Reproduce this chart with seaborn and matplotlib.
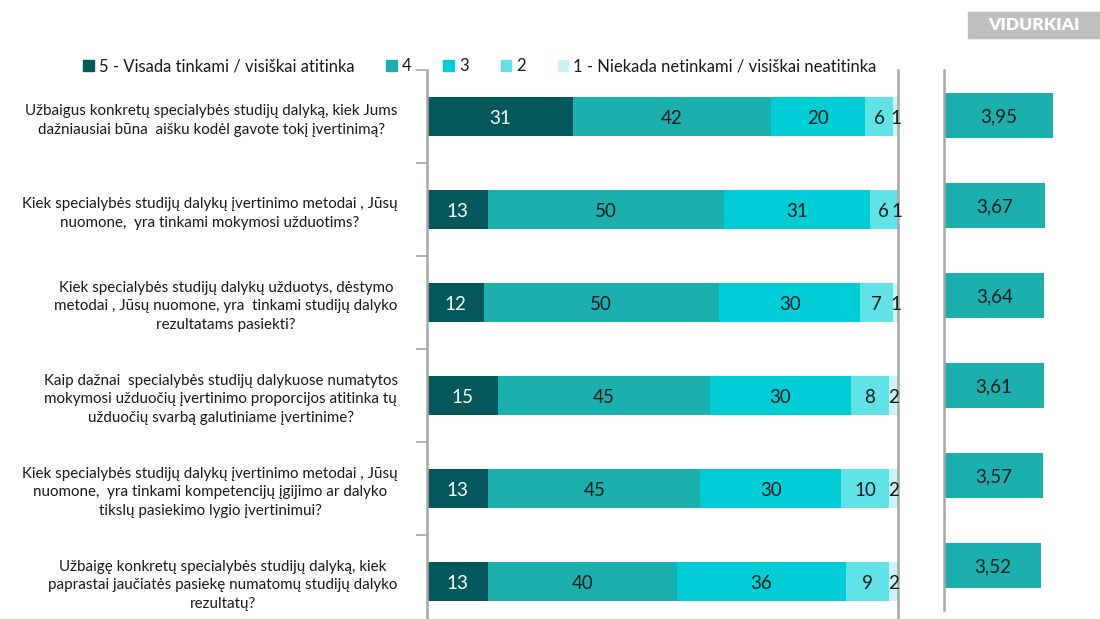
import numpy as np
import pandas as pd
import seaborn as sns
import matplotlib.pyplot as plt

sns.set_theme(style="white")
plt.rcParams['font.family'] = ['Lato', 'DejaVu Sans']

# data
questions = [
    "Užbaigus konkretų specialybės studijų dalyką, kiek Jums\ndažniausiai būna  aišku kodėl gavote tokį įvertinimą?",
    "Kiek specialybės studijų dalykų įvertinimo metodai , Jūsų\nnuomone,  yra tinkami mokymosi užduotims?",
    "Kiek specialybės studijų dalykų užduotys, dėstymo\nmetodai , Jūsų nuomone, yra  tinkami studijų dalyko\nrezultatams pasiekti?",
    "Kaip dažnai  specialybės studijų dalykuose numatytos\nmokymosi užduočių įvertinimo proporcijos atitinka tų\nužduočių svarbą galutiniame įvertinime?",
    "Kiek specialybės studijų dalykų įvertinimo metodai , Jūsų\nnuomone,  yra tinkami kompetencijų įgijimo ar dalyko\ntikslų pasiekimo lygio įvertinimui?",
    "Užbaigę konkretų specialybės studijų dalyką, kiek\npaprastai jaučiatės pasiekę numatomų studijų dalyko\nrezultatų?",
]
series_names = ["5 - Visada tinkami / visiškai atitinka", "4", "3", "2",
                "1 - Niekada netinkami / visiškai neatitinka"]
v5 = [31, 13, 12, 15, 13, 13]
v4 = [42, 50, 50, 45, 45, 40]
v3 = [20, 31, 30, 30, 30, 36]
v2 = [6, 6, 7, 8, 10, 9]
v1 = [1, 1, 1, 2, 2, 2]
averages = [3.95, 3.67, 3.64, 3.61, 3.57, 3.52]

colors = ["#03585C", "#1BB0AE", "#00CED6", "#5FE3E6", "#C9F4F5"]
text_colors = ["white", "#1a1a1a", "#1a1a1a", "#1a1a1a", "#1a1a1a"]

values = np.array([v5, v4, v3, v2, v1], dtype=float)
cum = values.cumsum(axis=0)

fig = plt.figure(figsize=(11, 6.19), dpi=100)
W, H = 1100, 619
ax1 = fig.add_axes([427 / W, (H - 628) / H, 471 / W, 558 / H])
ax2 = fig.add_axes([944 / W, (H - 610) / H, 138 / W, 540 / H])

# stacked bars: draw widest cumulative first, then overlay the shorter ones
for i in range(4, -1, -1):
    df = pd.DataFrame({"q": questions, "x": cum[i]})
    sns.barplot(data=df, x="x", y="q", orient="h", color=colors[i],
                saturation=1, width=0.41, linewidth=0, ax=ax1)

for i in range(5):
    for j in range(len(questions)):
        xc = min(cum[i, j] - values[i, j] / 2, 99.7)
        ax1.text(xc, j + 0.02, str(int(values[i, j])),
                 ha="center", va="center", fontsize=13.5, color=text_colors[i])

ax1.set_xlim(0, 100)
ax1.set_ylim(5.5, -0.5)
ax1.set_xlabel("")
ax1.set_ylabel("")
ax1.set_xticks([])
ax1.tick_params(axis="y", length=0, pad=21, labelsize=10.9, labelcolor="#1a1a1a")
for t in ax1.get_yticklabels():
    t.set_multialignment("center")
    t.set_linespacing(1.45)
ax1.set_yticks(np.arange(-0.5, 5.5, 1), minor=True)
ax1.tick_params(axis="y", which="minor", length=8, width=1.2, color="#A6A6A6", left=True)
for s in ["top", "bottom"]:
    ax1.spines[s].set_visible(False)
for s in ["left", "right"]:
    ax1.spines[s].set_color("#A6A6A6")
    ax1.spines[s].set_linewidth(1.8)

# averages panel
dfa = pd.DataFrame({"q": questions, "avg": averages})
sns.barplot(data=dfa, x="avg", y="q", orient="h", color="#1BB0AE",
            saturation=1, width=0.5, linewidth=0, ax=ax2)
for j, a in enumerate(averages):
    ax2.text(a / 2, j + 0.02, f"{a:.2f}".replace(".", ","), ha="center", va="center",
             fontsize=13.5, color="#1a1a1a")
ax2.set_xlim(0, 5)
ax2.set_ylim(5.5, -0.5)
ax2.set_xlabel("")
ax2.set_ylabel("")
ax2.set_xticks([])
ax2.set_yticks([])
for s in ["top", "bottom", "right"]:
    ax2.spines[s].set_visible(False)
ax2.spines["left"].set_color("#A6A6A6")
ax2.spines["left"].set_linewidth(1.8)

# legend
handles = [plt.Rectangle((0, 0), 1, 1, color=c) for c in colors]
fig.legend(handles, series_names, loc="center", bbox_to_anchor=(480 / W, 1 - 66 / H),
           ncol=5, frameon=False, fontsize=12.0, handlelength=0.65, handleheight=0.65,
           handletextpad=0.3, columnspacing=1.9, labelcolor="#1a1a1a")

# header box
fig.add_artist(plt.Rectangle((968 / W, 1 - 38 / H), 132 / W, 26 / H,
                             transform=fig.transFigure, color="#BFBFBF"))
fig.text(1034 / W, 1 - 25 / H, "VIDURKIAI", ha="center", va="center",
         color="white", fontsize=12.5, fontweight="heavy")

fig.savefig("out.png", dpi=100)
